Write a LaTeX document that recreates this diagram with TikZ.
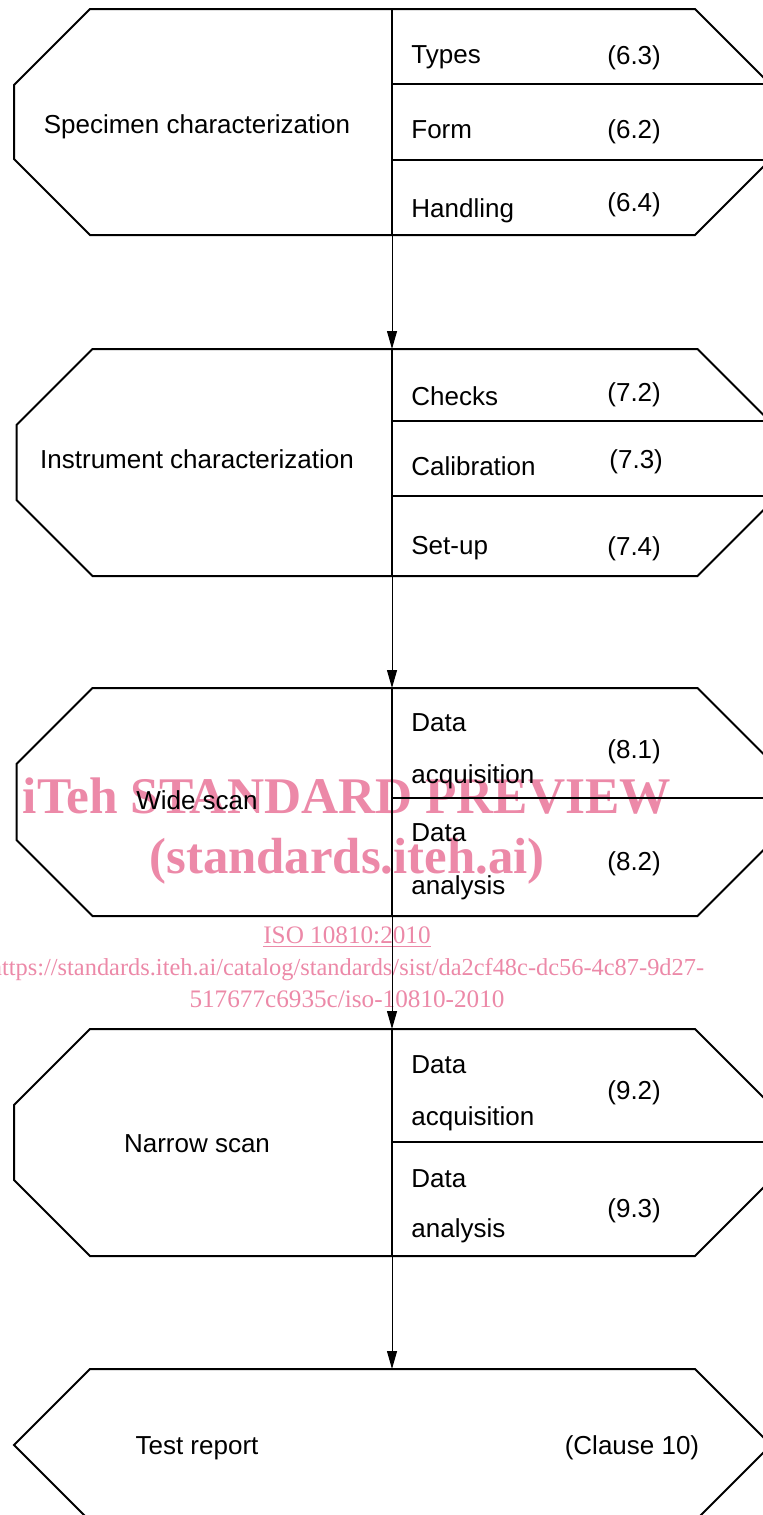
\documentclass[tikz,border=0pt]{standalone}
\usepackage{fontspec}
\setmainfont{Liberation Sans}
\newfontfamily\wmfont{Liberation Serif}
\usetikzlibrary{arrows.meta}
\definecolor{wmpink}{RGB}{236,137,168}
\tikzstyle{stage} = [draw=black, line width=1pt]
\tikzstyle{part} = [draw=black, line width=1pt]
\tikzstyle{lbl} = [inner sep=0pt, anchor=base, font=\fontsize{13}{15}\selectfont]
\tikzstyle{sub} = [lbl, anchor=base west]
\tikzstyle{flow} = [line width=0.5pt, -{Triangle[length=9pt,width=5pt]}]
\tikzstyle{wmark} = [inner sep=0pt, anchor=base, text=wmpink]

\begin{document}
\begin{tikzpicture}[x=0.5pt, y=-0.5pt]
\useasboundingbox (0,0) rectangle (763,1515);
\clip (0,0) rectangle (763,1515);

% watermark
\node[wmark, font=\wmfont\bfseries\fontsize{25.7}{30}\selectfont] (wm1) at (347,813) {iTeh STANDARD PREVIEW};
\node[wmark, font=\wmfont\bfseries\fontsize{25.4}{30}\selectfont] (wm2) at (347,873) {(standards.iteh.ai)};
\node[wmark, font=\wmfont\fontsize{12.6}{15}\selectfont] (wm3) at (347,943) {\underline{ISO 10810:2010}};
\node[wmark, font=\wmfont\fontsize{12.2}{15}\selectfont] (wm4) at (347,975) {https://standards.iteh.ai/catalog/standards/sist/da2cf48c-dc56-4c87-9d27-};
\node[wmark, font=\wmfont\fontsize{12.6}{15}\selectfont] (wm5) at (347,1007) {517677c6935c/iso-10810-2010};

% stages
\foreach \i/\t/\b/\s in {1/9/235/0, 2/349/576/2.5, 3/688/916/2.5, 4/1029/1256/0}{
  \draw[stage] (90+\s,\t) -- (695+\s,\t) -- (771+\s,\t+76) -- (771+\s,\b-76) -- (695+\s,\b) -- (90+\s,\b) -- (14+\s,\b-76) -- (14+\s,\t+76) -- cycle;
  \coordinate (top\i) at (392,\t);
  \coordinate (bot\i) at (392,\b);
  \draw[part] (top\i) -- (bot\i);
}
\draw[stage] (90,1369) -- (695,1369) -- (771,1445) -- (695,1521) -- (90,1521) -- (14,1445) -- cycle;
\coordinate (top5) at (392,1369);

% sub-steps
\foreach \y in {84,160,421,496,798,1142}
  \draw[part] (392,\y) -- (771,\y);

\foreach \a/\b in {1/2,2/3,3/4,4/5}
  \draw[flow] (bot\a) -- (top\b);

% labels
\node[lbl] (spec) at (197,133) {Specimen characterization};
\node[sub] (types) at (411,63) {Types};
\node[sub] (types-no) at (607,64) {(6.3)};
\node[sub] (form) at (411,138) {Form};
\node[sub] (form-no) at (607,138) {(6.2)};
\node[sub] (hand) at (411,217) {Handling};
\node[sub] (hand-no) at (607,211) {(6.4)};

\node[lbl] (instr) at (197,468) {Instrument characterization};
\node[sub] (checks) at (411,405) {Checks};
\node[sub] (checks-no) at (607,401) {(7.2)};
\node[sub] (calib) at (411,475) {Calibration};
\node[sub] (calib-no) at (609,468) {(7.3)};
\node[sub] (setup) at (411,554) {Set-up};
\node[sub] (setup-no) at (607,555) {(7.4)};

\node[lbl] (wide) at (197,809) {Wide scan};
\node[sub] (wacq1) at (411,731) {Data};
\node[sub] (wacq2) at (411,783) {acquisition};
\node[sub] (wacq-no) at (607,758) {(8.1)};
\node[sub] (wana1) at (411,841) {Data};
\node[sub] (wana2) at (411,894) {analysis};
\node[sub] (wana-no) at (607,870) {(8.2)};

\node[lbl] (narrow) at (197,1152) {Narrow scan};
\node[sub] (nacq1) at (411,1073) {Data};
\node[sub] (nacq2) at (411,1125) {acquisition};
\node[sub] (nacq-no) at (607,1099) {(9.2)};
\node[sub] (nana1) at (411,1187) {Data};
\node[sub] (nana2) at (411,1237) {analysis};
\node[sub] (nana-no) at (607,1217) {(9.3)};

\node[lbl] (report) at (197,1454) {Test report};
\node[lbl] (report-no) at (632,1454) {(Clause 10)};
\end{tikzpicture}
\end{document}
